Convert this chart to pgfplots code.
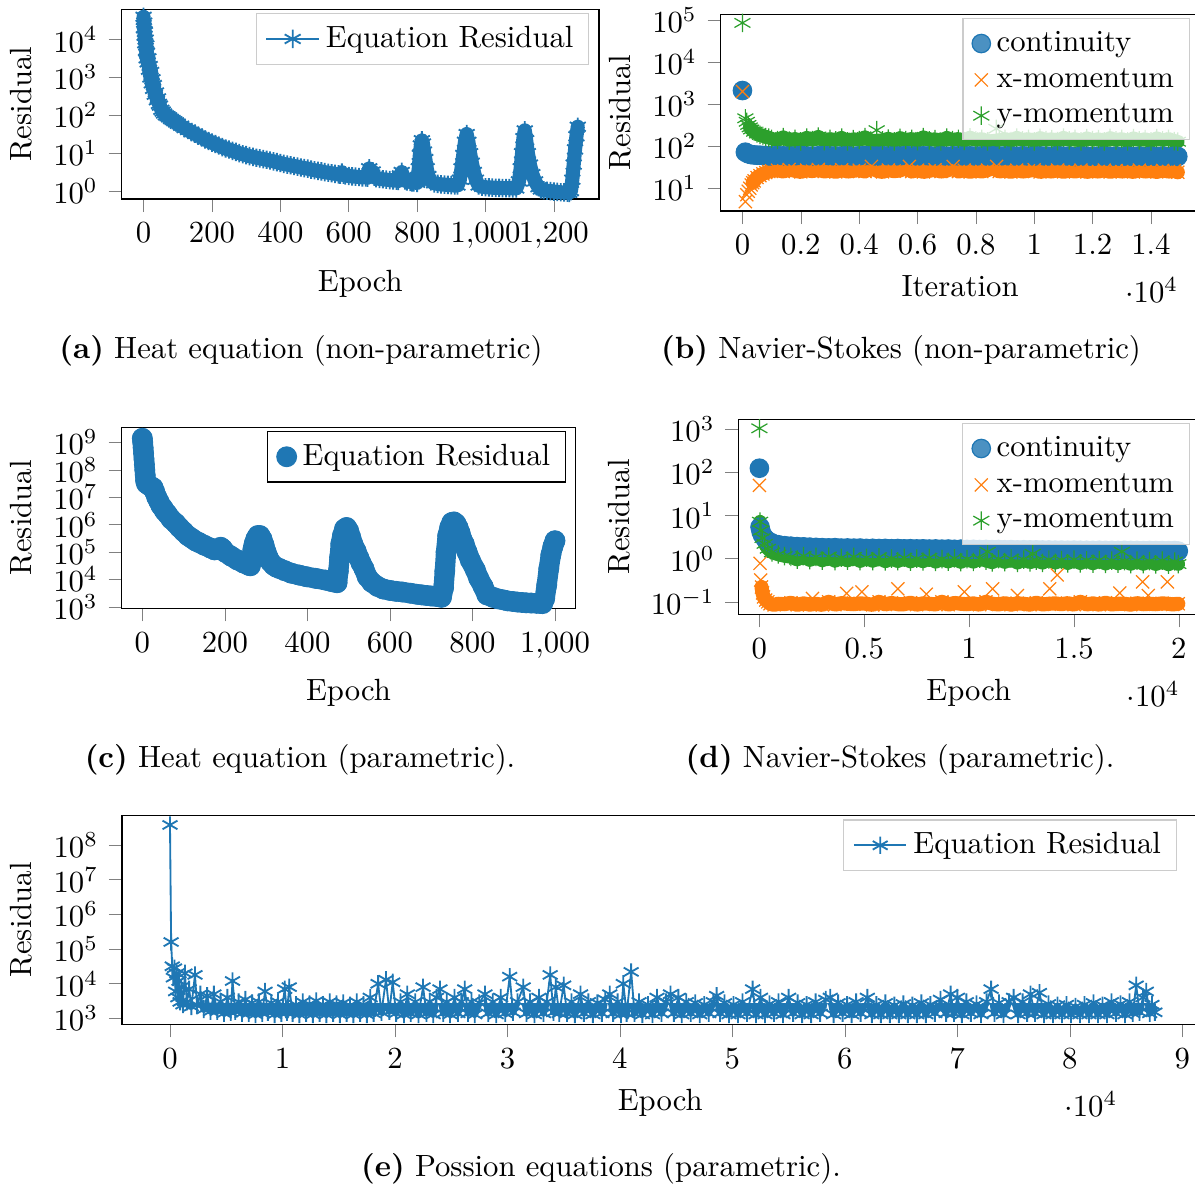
\documentclass[border=0pt]{standalone}
\usepackage{pgfplots}
\pgfplotsset{compat=1.18}
\usepackage{pgfplotstable}
\definecolor{tabblue}{RGB}{31,119,180}
\definecolor{taborange}{RGB}{255,127,14}
\definecolor{tabgreen}{RGB}{44,160,44}
\definecolor{lightgray204}{RGB}{204,204,204}
% (a) Heat equation, non-parametric
\pgfplotstableread[row sep=\\]{x y\\ 0 40000\\ 1 20000\\ 2 28000\\ 3 12600\\ 4 15800\\ 5 8000\\ 6 10000\\ 7 5000\\ 8 7000\\ 9 3200\\ 10 4500\\ 12 2500\\ 14 3200\\ 16 1600\\ 18 2000\\ 20 1000\\ 22 1400\\ 24 700\\ 26 900\\ 28 500\\ 30 630\\ 33 350\\ 36 400\\ 39 250\\ 42 280\\ 45 200\\ 48 180\\ 52 140\\ 56 126\\ 60 112\\ 65 100\\ 70 95\\ 75 88\\ 80 80\\ 85 75\\ 90 70\\ 95 65\\ 100 60\\ 110 53\\ 120 46\\ 130 41\\ 140 36\\ 150 33\\ 160 29\\ 170 26\\ 180 23\\ 190 21\\ 200 19\\ 210 17.5\\ 220 16\\ 230 14.5\\ 240 13.3\\ 250 12.5\\ 260 11.5\\ 270 10.8\\ 280 10\\ 290 9.4\\ 300 8.9\\ 310 8.4\\ 320 8\\ 330 7.6\\ 340 7.3\\ 350 7\\ 360 6.7\\ 370 6.4\\ 380 6.1\\ 390 5.8\\ 400 5.5\\ 410 5.2\\ 420 5\\ 430 4.8\\ 440 4.6\\ 450 4.4\\ 460 4.2\\ 470 4.05\\ 480 3.9\\ 490 3.7\\ 500 3.55\\ 510 3.4\\ 520 3.3\\ 530 3.15\\ 540 3.05\\ 550 2.95\\ 560 2.85\\ 570 2.75\\ 575 2.7\\ 580 3.1\\ 585 2.7\\ 590 2.6\\ 600 2.5\\ 610 2.45\\ 620 2.4\\ 630 2.35\\ 640 2.3\\ 650 2.3\\ 655 2.25\\ 660 4\\ 665 2.9\\ 670 3.3\\ 675 2.4\\ 680 2.2\\ 690 2.1\\ 700 2.05\\ 710 2.0\\ 720 1.95\\ 730 1.9\\ 740 1.88\\ 745 1.85\\ 750 2.6\\ 755 3.2\\ 760 2.3\\ 765 1.9\\ 770 1.8\\ 780 1.75\\ 785 1.7\\ 790 1.68\\ 800 1.65\\ 805 4\\ 808 9\\ 811 16\\ 814 22\\ 817 18\\ 820 11\\ 824 7\\ 828 4\\ 833 2.5\\ 840 1.8\\ 850 1.6\\ 860 1.55\\ 870 1.5\\ 880 1.48\\ 890 1.45\\ 900 1.43\\ 910 1.4\\ 918 1.4\\ 925 2\\ 930 4\\ 935 9\\ 940 20\\ 945 32\\ 950 20\\ 955 10\\ 960 5.6\\ 966 3.2\\ 972 2\\ 980 1.4\\ 990 1.3\\ 1000 1.26\\ 1010 1.25\\ 1020 1.23\\ 1030 1.22\\ 1040 1.21\\ 1050 1.2\\ 1060 1.2\\ 1070 1.19\\ 1080 1.18\\ 1090 1.17\\ 1098 1.8\\ 1103 4\\ 1107 10\\ 1111 25\\ 1115 40\\ 1119 22\\ 1124 10\\ 1130 5\\ 1137 2.8\\ 1145 1.8\\ 1155 1.26\\ 1162 1.1\\ 1170 1.05\\ 1180 1.02\\ 1190 1.0\\ 1200 0.97\\ 1210 0.95\\ 1220 0.93\\ 1230 0.92\\ 1240 0.91\\ 1245 0.9\\ 1250 1.0\\ 1254 2\\ 1258 5\\ 1262 12.6\\ 1266 28\\ 1270 50\\}\tA
% (b) Navier-Stokes, non-parametric
\pgfplotstableread[row sep=\\]{x y\\ 0 2100\\ 100 72\\ 200 66\\ 300 63\\ 400 62\\ 500 61\\ 600 61\\ 700 60\\ 800 60\\ 900 59\\ 1000 59\\ 1200 60\\ 1400 59\\ 1600 58\\ 1800 59\\ 2000 60\\ 2200 59\\ 2400 58\\ 2600 59\\ 2800 60\\ 3000 59\\ 3200 58\\ 3400 59\\ 3600 59\\ 3800 58\\ 4000 59\\ 4200 60\\ 4400 59\\ 4600 58\\ 4800 59\\ 5000 59\\ 5200 58\\ 5400 59\\ 5600 60\\ 5800 59\\ 6000 58\\ 6200 59\\ 6400 59\\ 6600 58\\ 6800 59\\ 7000 58\\ 7200 59\\ 7400 59\\ 7600 58\\ 7800 59\\ 8000 58\\ 8200 59\\ 8400 58\\ 8600 59\\ 8800 58\\ 9000 59\\ 9200 58\\ 9400 58\\ 9600 59\\ 9800 58\\ 10000 58\\ 10200 59\\ 10400 58\\ 10600 58\\ 10800 59\\ 11000 58\\ 11200 58\\ 11400 57\\ 11600 58\\ 11800 58\\ 12000 57\\ 12200 58\\ 12400 58\\ 12600 57\\ 12800 58\\ 13000 57\\ 13200 58\\ 13400 57\\ 13600 58\\ 13800 57\\ 14000 58\\ 14200 57\\ 14400 58\\ 14600 57\\ 14800 58\\ 14920 57\\}\tBc
\pgfplotstableread[row sep=\\]{x y\\ 0 2000\\ 100 4.8\\ 150 7\\ 200 8.5\\ 250 10\\ 300 12\\ 350 13.5\\ 400 15\\ 500 18\\ 600 20\\ 700 22\\ 800 23.5\\ 900 25\\ 1000 26\\ 1200 27\\ 1400 25\\ 1600 28\\ 1800 26\\ 2000 24.5\\ 2200 27\\ 2400 25.5\\ 2600 28\\ 2800 25\\ 3000 26.5\\ 3200 24.5\\ 3400 27.5\\ 3600 25\\ 3800 26\\ 4000 27\\ 4200 25\\ 4420 33\\ 4600 26\\ 4800 24.5\\ 5000 27\\ 5200 25.5\\ 5400 26.5\\ 5720 33\\ 5800 25\\ 6000 27\\ 6200 24.5\\ 6400 26\\ 6600 27.5\\ 6800 25\\ 7000 26\\ 7220 33\\ 7400 25\\ 7600 27\\ 7800 24.5\\ 8000 26.5\\ 8200 25\\ 8400 27\\ 8710 33\\ 8800 25\\ 9000 26.5\\ 9200 24.5\\ 9400 27\\ 9600 25\\ 9800 26\\ 10000 27.5\\ 10200 24.5\\ 10400 26\\ 10600 25\\ 10800 27\\ 11000 24.5\\ 11200 26.5\\ 11400 25\\ 11600 27\\ 11800 24.5\\ 12000 26\\ 12200 25\\ 12400 27\\ 12600 24.5\\ 12800 26.5\\ 13000 25\\ 13200 26\\ 13400 24.5\\ 13600 27\\ 13800 25\\ 14000 26\\ 14200 24.5\\ 14400 26.5\\ 14600 25\\ 14800 26\\ 14920 24\\}\tBx
\pgfplotstableread[row sep=\\]{x y\\ 0 85000\\ 100 460\\ 150 380\\ 200 320\\ 250 280\\ 300 250\\ 400 220\\ 500 200\\ 600 185\\ 700 175\\ 800 165\\ 900 160\\ 1000 150\\ 1200 140\\ 1400 165\\ 1600 135\\ 1800 150\\ 2000 130\\ 2200 160\\ 2400 140\\ 2600 170\\ 2800 132\\ 3000 150\\ 3200 138\\ 3400 160\\ 3600 130\\ 3800 148\\ 4000 140\\ 4200 165\\ 4400 135\\ 4800 138\\ 5000 152\\ 5200 130\\ 5400 158\\ 5600 140\\ 5800 150\\ 6000 132\\ 6200 165\\ 6400 138\\ 6600 148\\ 6800 130\\ 7000 160\\ 7200 140\\ 7400 150\\ 7600 133\\ 7800 162\\ 8000 138\\ 8200 150\\ 8400 130\\ 8800 140\\ 9000 150\\ 9200 132\\ 9400 160\\ 9600 138\\ 9800 150\\ 10000 130\\ 10200 158\\ 10400 140\\ 10600 148\\ 10800 132\\ 11000 160\\ 11200 138\\ 11400 150\\ 11600 130\\ 11800 155\\ 12000 140\\ 12200 148\\ 12400 130\\ 12600 158\\ 12800 138\\ 13000 150\\ 13200 130\\ 13400 155\\ 13600 138\\ 13800 148\\ 14000 130\\ 14200 155\\ 14400 138\\ 14600 150\\ 14800 132\\ 14920 128\\}\tBy
\pgfplotstableread[row sep=\\]{x y\\ 4600 240\\ 8700 260\\}\tByo
% (c) Heat equation, parametric
\pgfplotstableread[row sep=\\]{x y\\ 0 1.41e9\\ 1 1e9\\ 2 6.3e8\\ 3 4e8\\ 4 2.5e8\\ 5 1.58e8\\ 6 1e8\\ 7 6.3e7\\ 8 4e7\\ 10 3.16e7\\ 15 2.8e7\\ 20 2.5e7\\ 26 2.24e7\\ 30 1.58e7\\ 35 1e7\\ 40 7.1e6\\ 45 5e6\\ 50 4e6\\ 54 3.16e6\\ 60 2.5e6\\ 70 1.58e6\\ 81 1.12e6\\ 90 7.9e5\\ 100 5.6e5\\ 110 4e5\\ 120 3.16e5\\ 130 2.5e5\\ 137 2.24e5\\ 150 1.78e5\\ 165 1.41e5\\ 175 1.2e5\\ 185 1.26e5\\ 190 1.5e5\\ 195 1.3e5\\ 200 1e5\\ 215 7.1e4\\ 230 5.2e4\\ 245 4e4\\ 258 3.3e4\\ 262 3.16e4\\ 265 6.3e4\\ 268 1.26e5\\ 271 2e5\\ 275 3e5\\ 280 4e5\\ 285 4e5\\ 290 3e5\\ 295 1.8e5\\ 300 1e5\\ 305 6.3e4\\ 310 4.5e4\\ 318 3.3e4\\ 325 2.8e4\\ 333 2.5e4\\ 345 2.1e4\\ 361 1.7e4\\ 380 1.45e4\\ 398 1.26e4\\ 420 1.1e4\\ 444 9.5e3\\ 460 8.3e3\\ 472 7.6e3\\ 475 2e4\\ 478 6.3e4\\ 481 2e5\\ 485 4e5\\ 490 7e5\\ 495 7.9e5\\ 500 6e5\\ 505 3.5e5\\ 510 2e5\\ 518 1.1e5\\ 525 6e4\\ 530 4e4\\ 537 2.5e4\\ 545 1.26e4\\ 556 7.9e3\\ 570 5.6e3\\ 584 4.5e3\\ 600 4e3\\ 615 3.7e3\\ 630 3.5e3\\ 650 3.16e3\\ 665 2.9e3\\ 677 2.75e3\\ 690 2.6e3\\ 700 2.5e3\\ 714 2.4e3\\ 725 2.24e3\\ 730 5e3\\ 733 2e4\\ 736 1e5\\ 740 4e5\\ 745 8e5\\ 750 1.2e6\\ 755 1.26e6\\ 760 1.1e6\\ 765 7.9e5\\ 770 5e5\\ 775 2.8e5\\ 780 2e5\\ 787 1e5\\ 795 5e4\\ 807 2.24e4\\ 815 1.12e4\\ 826 5.5e3\\ 835 2.75e3\\ 850 2.24e3\\ 863 1.95e3\\ 875 1.8e3\\ 885 1.66e3\\ 897 1.58e3\\ 909 1.5e3\\ 920 1.45e3\\ 930 1.41e3\\ 942 1.38e3\\ 955 1.35e3\\ 965 1.33e3\\ 970 1.32e3\\ 975 2e3\\ 980 6.3e3\\ 985 2.5e4\\ 990 7.9e4\\ 995 1.6e5\\ 1000 2.6e5\\}\tC
% (d) Navier-Stokes, parametric
\pgfplotstableread[row sep=\\]{x y\\ 0 125\\ 30 5.4\\ 80 4.2\\ 150 3.5\\ 250 3.0\\ 400 2.6\\ 600 2.3\\ 900 2.1\\ 1200 2.0\\ 1500 1.95\\ 1800 1.9\\ 2100 1.88\\ 2400 1.85\\ 2700 1.83\\ 3000 1.8\\ 3300 1.78\\ 3600 1.8\\ 3900 1.76\\ 4200 1.77\\ 4500 1.75\\ 4800 1.76\\ 5100 1.73\\ 5400 1.74\\ 5700 1.72\\ 6000 1.73\\ 6300 1.7\\ 6600 1.72\\ 6900 1.69\\ 7200 1.7\\ 7500 1.68\\ 7800 1.69\\ 8100 1.67\\ 8400 1.68\\ 8700 1.66\\ 9000 1.67\\ 9300 1.65\\ 9600 1.66\\ 9900 1.64\\ 10200 1.65\\ 10500 1.63\\ 10800 1.64\\ 11100 1.62\\ 11400 1.63\\ 11700 1.61\\ 12000 1.62\\ 12300 1.6\\ 12600 1.61\\ 12900 1.6\\ 13200 1.6\\ 13500 1.59\\ 13800 1.59\\ 14100 1.58\\ 14400 1.58\\ 14700 1.57\\ 15000 1.58\\ 15300 1.57\\ 15600 1.57\\ 15900 1.56\\ 16200 1.57\\ 16500 1.56\\ 16800 1.56\\ 17100 1.55\\ 17400 1.56\\ 17700 1.55\\ 18000 1.55\\ 18300 1.54\\ 18600 1.55\\ 18900 1.54\\ 19200 1.54\\ 19500 1.53\\ 19800 1.54\\ 19970 1.5\\}\tDc
\pgfplotstableread[row sep=\\]{x y\\ 0 50\\ 30 0.78\\ 60 0.32\\ 100 0.22\\ 150 0.16\\ 200 0.13\\ 300 0.11\\ 400 0.1\\ 500 0.09\\ 700 0.085\\ 900 0.09\\ 1200 0.088\\ 1500 0.095\\ 1800 0.085\\ 2100 0.092\\ 2400 0.086\\ 2700 0.09\\ 3000 0.085\\ 3300 0.1\\ 3600 0.086\\ 3900 0.093\\ 4200 0.09\\ 4500 0.088\\ 4800 0.092\\ 5100 0.09\\ 5400 0.085\\ 5700 0.1\\ 6000 0.087\\ 6300 0.094\\ 6600 0.088\\ 6900 0.088\\ 7200 0.095\\ 7500 0.086\\ 7800 0.092\\ 8100 0.09\\ 8400 0.087\\ 8700 0.1\\ 9000 0.086\\ 9300 0.094\\ 9600 0.09\\ 9900 0.088\\ 10200 0.092\\ 10500 0.086\\ 10800 0.1\\ 11100 0.09\\ 11400 0.087\\ 11700 0.093\\ 12000 0.086\\ 12300 0.092\\ 12600 0.09\\ 12900 0.086\\ 13200 0.095\\ 13500 0.087\\ 13800 0.09\\ 14100 0.092\\ 14400 0.088\\ 14700 0.093\\ 15000 0.086\\ 15300 0.1\\ 15600 0.087\\ 15900 0.092\\ 16200 0.086\\ 16500 0.095\\ 16800 0.087\\ 17100 0.09\\ 17400 0.09\\ 17700 0.086\\ 18000 0.093\\ 18300 0.088\\ 18600 0.09\\ 18900 0.088\\ 19200 0.092\\ 19500 0.09\\ 19700 0.087\\ 19970 0.09\\}\tDx
\pgfplotstableread[row sep=\\]{x y\\ 2530 0.12\\ 4160 0.157\\ 4890 0.17\\ 6600 0.2\\ 7960 0.15\\ 9770 0.17\\ 11120 0.2\\ 12300 0.14\\ 13840 0.2\\ 14200 0.42\\ 17180 0.16\\ 18270 0.29\\ 18540 0.14\\ 19450 0.29\\}\tDxo
\pgfplotstableread[row sep=\\]{x y\\ 0 1050\\ 30 7.2\\ 80 4.5\\ 150 3.0\\ 250 2.2\\ 400 1.7\\ 600 1.4\\ 900 1.25\\ 1200 1.15\\ 1500 1.1\\ 1800 0.95\\ 2100 1.15\\ 2400 0.92\\ 2700 1.1\\ 3000 0.9\\ 3300 1.12\\ 3600 0.88\\ 3900 1.05\\ 4200 0.9\\ 4500 1.1\\ 4800 0.87\\ 5100 1.05\\ 5400 0.88\\ 5700 1.08\\ 6000 0.86\\ 6300 1.0\\ 6600 0.87\\ 6900 1.05\\ 7200 0.85\\ 7500 1.0\\ 7800 0.86\\ 8100 1.05\\ 8400 0.84\\ 8700 0.98\\ 9000 0.85\\ 9300 1.02\\ 9600 0.83\\ 9900 0.98\\ 10200 0.84\\ 10500 1.0\\ 10800 0.9\\ 11100 0.82\\ 11400 0.97\\ 11700 0.83\\ 12000 1.0\\ 12300 0.8\\ 12600 0.95\\ 12900 0.82\\ 13200 0.9\\ 13500 0.8\\ 13800 0.95\\ 14100 0.8\\ 14400 0.93\\ 14700 0.78\\ 15000 0.95\\ 15300 0.78\\ 15600 0.92\\ 15900 0.77\\ 16200 0.93\\ 16500 0.76\\ 16800 0.9\\ 17100 0.77\\ 17400 0.88\\ 17700 0.75\\ 18000 0.9\\ 18300 0.75\\ 18600 0.88\\ 18900 0.74\\ 19200 0.9\\ 19500 0.73\\ 19800 0.86\\ 19970 0.75\\}\tDy
\pgfplotstableread[row sep=\\]{x y\\ 10880 1.45\\ 13030 1.3\\ 17280 1.45\\}\tDyo
% (e) Poisson equations, parametric
\pgfplotstableread[row sep=\\]{x y\\ 0 3.8e8\\ 100 1.6e5\\ 200 3.2e4\\ 300 1.5e4\\ 400 2.8e4\\ 500 6e3\\ 600 2e4\\ 700 4e3\\ 800 1.2e4\\ 900 3e3\\ 1000 8e3\\ 1150 2.5e3\\ 1330 2e4\\ 1500 3e3\\ 1700 7e3\\ 1900 2.2e3\\ 2220 1.8e4\\ 2400 2.5e3\\ 2700 5e3\\ 3000 1.8e3\\ 3300 4.5e3\\ 3600 1.6e3\\ 3900 5e3\\ 4200 1.6e3\\ 4500 3e3\\ 4800 1.4e3\\ 5100 4e3\\ 5400 1.5e3\\ 5560 1.2e4\\ 5800 1.6e3\\ 6100 3e3\\ 6400 1.4e3\\ 6700 3.5e3\\ 7000 1.4e3\\ 7300 2.8e3\\ 7600 1.3e3\\ 7900 3e3\\ 8200 1.4e3\\ 8450 6e3\\ 8700 1.5e3\\ 9000 2.8e3\\ 9300 1.3e3\\ 9600 3e3\\ 9900 1.4e3\\ 10200 7e3\\ 10400 1.5e3\\ 10600 8e3\\ 10900 1.4e3\\ 11200 2.5e3\\ 11500 1.3e3\\ 11800 3e3\\ 12100 1.4e3\\ 12400 2.6e3\\ 12700 1.3e3\\ 13000 3.2e3\\ 13300 1.4e3\\ 13600 2.5e3\\ 13900 1.3e3\\ 14200 3e3\\ 14500 1.4e3\\ 14800 2.6e3\\ 15100 1.3e3\\ 15400 2.8e3\\ 15700 1.4e3\\ 16000 2.4e3\\ 16300 1.3e3\\ 16600 3e3\\ 16900 1.4e3\\ 17200 2.5e3\\ 17500 1.3e3\\ 17800 4e3\\ 18100 1.4e3\\ 18500 1e4\\ 18800 1.5e3\\ 19200 1.3e4\\ 19500 1.6e3\\ 19800 1.1e4\\ 20100 1.4e3\\ 20500 3e3\\ 20800 1.3e3\\ 21100 5e3\\ 21400 1.4e3\\ 21800 3e3\\ 22100 1.3e3\\ 22500 8e3\\ 22800 1.4e3\\ 23100 3e3\\ 23400 1.3e3\\ 23700 4e3\\ 24000 7e3\\ 24300 1.4e3\\ 24600 3e3\\ 24900 1.3e3\\ 25300 4e3\\ 25600 1.4e3\\ 25900 3e3\\ 26200 7e3\\ 26500 1.4e3\\ 26800 3e3\\ 27100 1.3e3\\ 27500 2.8e3\\ 28000 5e3\\ 28300 1.4e3\\ 28700 3e3\\ 29000 1.3e3\\ 29400 4e3\\ 29800 1.4e3\\ 30200 1.6e4\\ 30500 1.5e3\\ 30900 3e3\\ 31400 8e3\\ 31700 1.4e3\\ 32000 3e3\\ 32400 1.3e3\\ 32800 4e3\\ 33200 1.4e3\\ 33500 3e3\\ 33800 1.8e4\\ 34100 1.5e3\\ 34300 8e3\\ 34600 1.4e3\\ 35000 9e3\\ 35300 1.4e3\\ 35700 3e3\\ 36000 1.3e3\\ 36500 5e3\\ 36800 1.4e3\\ 37200 3e3\\ 37600 1.3e3\\ 38000 2.8e3\\ 38400 1.4e3\\ 38700 3.5e3\\ 39100 5e3\\ 39400 1.4e3\\ 39800 3e3\\ 40100 1.3e3\\ 40300 1e4\\ 40600 1.4e3\\ 41000 2.2e4\\ 41300 1.4e3\\ 41700 3e3\\ 42000 1.3e3\\ 42500 2.5e3\\ 42900 1.3e3\\ 43300 4e3\\ 43700 1.4e3\\ 44100 3e3\\ 44500 5e3\\ 44800 1.4e3\\ 45200 4e3\\ 45500 1.3e3\\ 45900 3e3\\ 46300 1.4e3\\ 46700 2.8e3\\ 47100 1.3e3\\ 47500 2.5e3\\ 47900 1.4e3\\ 48300 3e3\\ 48600 4.5e3\\ 48900 1.4e3\\ 49300 2.8e3\\ 49700 1.3e3\\ 50100 2.5e3\\ 50500 1.3e3\\ 50900 3e3\\ 51300 1.4e3\\ 51800 7e3\\ 52100 1.3e3\\ 52500 4e3\\ 52900 1.3e3\\ 53300 2.6e3\\ 53700 1.4e3\\ 54100 3e3\\ 54500 1.3e3\\ 55000 4e3\\ 55400 1.4e3\\ 55800 2.8e3\\ 56200 1.3e3\\ 56600 2.5e3\\ 57000 1.3e3\\ 57400 3e3\\ 57800 1.4e3\\ 58300 3.5e3\\ 58700 4e3\\ 59000 1.3e3\\ 59400 2.8e3\\ 59800 1.4e3\\ 60200 2.5e3\\ 60600 1.3e3\\ 61000 3e3\\ 61400 1.4e3\\ 62000 4e3\\ 62400 1.3e3\\ 62800 2.5e3\\ 63200 1.3e3\\ 63600 2.8e3\\ 64000 1.3e3\\ 64400 2.4e3\\ 64800 1.3e3\\ 65200 2.6e3\\ 65600 1.3e3\\ 66000 2.4e3\\ 66400 1.3e3\\ 66800 2.8e3\\ 67200 1.3e3\\ 67600 2.5e3\\ 68000 1.4e3\\ 68500 3.5e3\\ 69000 1.4e3\\ 69400 5e3\\ 69700 1.4e3\\ 70000 4e3\\ 70400 1.3e3\\ 70800 3e3\\ 71200 1.4e3\\ 71700 2.6e3\\ 72100 1.3e3\\ 72600 3e3\\ 73000 7e3\\ 73300 1.4e3\\ 73700 2.8e3\\ 74100 1.3e3\\ 74600 3e3\\ 75000 4e3\\ 75400 1.3e3\\ 75800 3e3\\ 76200 1.4e3\\ 76500 5e3\\ 76900 1.4e3\\ 77300 5.5e3\\ 77700 1.3e3\\ 78100 2.6e3\\ 78500 1.3e3\\ 78900 2.4e3\\ 79300 1.3e3\\ 79700 2.5e3\\ 80100 1.3e3\\ 80500 2.2e3\\ 80900 1.3e3\\ 81300 2.5e3\\ 81700 1.3e3\\ 82100 2.8e3\\ 82500 1.3e3\\ 82900 2.4e3\\ 83300 1.3e3\\ 83700 3e3\\ 84100 1.4e3\\ 84500 2.6e3\\ 84900 1.3e3\\ 85300 3e3\\ 85600 1.4e3\\ 85900 9e3\\ 86200 1.5e3\\ 86500 4e3\\ 86800 6e3\\ 87100 1.4e3\\ 87300 2.5e3\\ 87560 1.5e3\\}\tE
\begin{document}
\begin{tikzpicture}
\path[use as bounding box] (0,0) rectangle (389.25pt,-386.32pt);
% (a)
\begin{axis}[scale only axis, anchor=north west, ymode=log, tick align=outside, tick pos=left,
  yminorticks=false, ylabel={Residual}, legend cell align=left,
  legend style={fill opacity=0.8, draw opacity=1, text opacity=1, draw=lightgray204},
  at={(39.64pt,-3.03pt)}, width=155.47pt, height=61.79pt,
  xmin=-64, xmax=1332, ymin=0.617, ymax=63000, xlabel={Epoch},
  xtick={0,200,...,1200}, ytick={1,10,100,1000,10000}]
\addplot[forget plot, no markers, tabblue, line width=4.6pt, line join=round, line cap=round] table {\tA};
\addplot[semithick, tabblue, mark=asterisk, mark size=3, mark options={solid}] table {\tA};
\addlegendentry{Equation Residual}
\end{axis}
% (b)
\begin{axis}[scale only axis, anchor=north west, ymode=log, tick align=outside, tick pos=left,
  yminorticks=false, ylabel={Residual}, legend cell align=left,
  legend style={fill opacity=0.8, draw opacity=1, text opacity=1, draw=lightgray204},
  every x tick scale label/.style={at={(xticklabel cs:0.9,4pt)},anchor=near xticklabel,inner sep=0pt},
  at={(234.75pt,-4.66pt)}, width=155.99pt, height=64.07pt,
  xmin=-746, xmax=15666, ymin=2.88, ymax=136000, xlabel={Iteration},
  xtick={0,2000,...,14000}, ytick={10,100,1000,10000,100000}]
\addplot[forget plot, no markers, tabblue, line width=6pt, line join=round, line cap=round, skip coords between index={0}{1}] table {\tBc};
\addplot[only marks, tabblue, mark=*, mark size=3, mark options={solid, draw=tabblue, fill=tabblue}] table {\tBc};
\addlegendentry{continuity}
\addplot[forget plot, no markers, taborange, line width=4.6pt, line join=round, line cap=round, skip coords between index={0}{6}] table {\tBx};
\addplot[only marks, taborange, mark=x, mark size=3, mark options={solid}] table {\tBx};
\addlegendentry{x-momentum}
\addplot[forget plot, no markers, tabgreen, line width=4.4pt, line join=round, line cap=round, skip coords between index={0}{4}] table {\tBy};
\addplot[only marks, tabgreen, mark=asterisk, mark size=3, mark options={solid}] table {\tBy};
\addlegendentry{y-momentum}
\addplot[forget plot, only marks, tabgreen, mark=asterisk, mark size=3, mark options={solid}] table {\tByo};
\end{axis}
% (c)
\begin{axis}[scale only axis, anchor=north west, ymode=log, tick align=outside, tick pos=left,
  yminorticks=false, ylabel={Residual}, legend cell align=left,
  legend style={draw=black},
  at={(39.64pt,-139.18pt)}, width=147.72pt, height=58.96pt,
  xmin=-50, xmax=1049, ymin=891, ymax=3.55e9, xlabel={Epoch},
  xtick={0,200,...,1000}, ytick={1e3,1e4,1e5,1e6,1e7,1e8,1e9}]
\addplot[forget plot, no markers, tabblue, line width=6.6pt, line join=round, line cap=round] table {\tC};
\addplot[only marks, tabblue, mark=*, mark size=3.2, mark options={solid, draw=tabblue, fill=tabblue}] table {\tC};
\addlegendentry{Equation Residual}
\end{axis}
% (d)
\begin{axis}[scale only axis, anchor=north west, ymode=log, tick align=outside, tick pos=left,
  yminorticks=false, ylabel={Residual}, legend cell align=left,
  legend style={fill opacity=0.8, draw opacity=1, text opacity=1, draw=lightgray204},
  every x tick scale label/.style={at={(xticklabel cs:0.9,4pt)},anchor=near xticklabel,inner sep=0pt},
  at={(240.55pt,-136.58pt)}, width=150.06pt, height=63.52pt,
  xmin=-998, xmax=20965, ymin=0.0513, ymax=1700, xlabel={Epoch},
  xtick={0,5000,...,20000}, ytick={0.1,1,10,100,1000}]
\addplot[forget plot, no markers, tabblue, line width=6pt, line join=round, line cap=round, skip coords between index={0}{1}] table {\tDc};
\addplot[only marks, tabblue, mark=*, mark size=3, mark options={solid, draw=tabblue, fill=tabblue}] table {\tDc};
\addlegendentry{continuity}
\addplot[forget plot, no markers, taborange, line width=4.6pt, line join=round, line cap=round, skip coords between index={0}{3}] table {\tDx};
\addplot[only marks, taborange, mark=x, mark size=3, mark options={solid}] table {\tDx};
\addlegendentry{x-momentum}
\addplot[forget plot, only marks, taborange, mark=x, mark size=3, mark options={solid}] table {\tDxo};
\addplot[forget plot, no markers, tabgreen, line width=4.4pt, line join=round, line cap=round, skip coords between index={0}{1}] table {\tDy};
\addplot[only marks, tabgreen, mark=asterisk, mark size=3, mark options={solid}] table {\tDy};
\addlegendentry{y-momentum}
\addplot[forget plot, only marks, tabgreen, mark=asterisk, mark size=3, mark options={solid}] table {\tDyo};
\end{axis}
% (e) dense band underlay: same data, clipped to the lower strip of the axis
\begin{axis}[scale only axis, anchor=south west, ymode=log, hide axis, clip=true,
  at={(39.74pt,-333.65pt)}, width=350.65pt, height=6.79pt,
  xmin=-4267, xmax=91440, ymin=676, ymax=2700]
\addplot[no markers, tabblue, line width=2.2pt, line join=round, skip coords between index={0}{3}] table {\tE};
\end{axis}
% (e)
\begin{axis}[scale only axis, anchor=north west, ymode=log, tick align=outside, tick pos=left,
  yminorticks=false, ylabel={Residual}, legend cell align=left,
  legend style={fill opacity=0.8, draw opacity=1, text opacity=1, draw=lightgray204},
  every x tick scale label/.style={at={(xticklabel cs:0.9,4pt)},anchor=near xticklabel,inner sep=0pt},
  at={(39.74pt,-265.57pt)}, width=350.65pt, height=68.08pt,
  xmin=-4267, xmax=91440, ymin=676, ymax=7.2e8, xlabel={Epoch},
  xtick={0,10000,...,90000}, ytick={1e3,1e4,1e5,1e6,1e7,1e8}]
\addplot[semithick, tabblue, mark=asterisk, mark size=2.8, mark options={solid}] table {\tE};
\addlegendentry{Equation Residual}
\end{axis}
% captions
\node at (98.04pt,-114.2pt) {\textbf{(a)} Heat equation (non-parametric)};
\node at (293.48pt,-114.2pt) {\textbf{(b)} Navier-Stokes (non-parametric)};
\node at (97.72pt,-247.6pt) {\textbf{(c)} Heat equation (parametric).};
\node at (293.16pt,-247.6pt) {\textbf{(d)} Navier-Stokes (parametric).};
\node at (195.76pt,-380.6pt) {\textbf{(e)} Possion equations (parametric).};
\end{tikzpicture}
\end{document}
